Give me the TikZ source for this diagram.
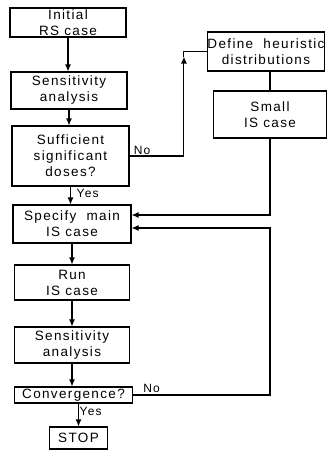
\documentclass[tikz,border=0pt]{standalone}
\usepackage{fontspec}
\setmainfont{Liberation Sans}[LetterSpace=10]
\usepackage{tikz}
\usetikzlibrary{calc, arrows.meta, positioning}
\tikzset{
    boxnode/.style = {draw, rectangle, inner sep = 0em, node distance=0em, line width=1.1pt,
      minimum width=116pt, align=center, font=\fontsize{13.5}{16}\selectfont},
    textnode/.style = {draw=none, fill=none, rectangle, inner sep = 0em, node distance=0em,
      font=\fontsize{12}{14}\selectfont},
    connect/.style = {black, line width=1.1pt, -{Latex[length=7pt, width=6pt]}},
    plainline/.style = {black, line width=1.1pt}
}

\begin{document}
\begin{tikzpicture}[x=1pt, y=1pt]
    \useasboundingbox (0,0) rectangle (327,-450);

    % main column
    \node [name = Init, boxnode, minimum height=29pt] at (68,-22.5) {Initial\\RS case};
    \node [name = SensA, boxnode, minimum height=37pt, below of = Init, xshift=1pt, yshift=-68pt] {Sensitivity\\analysis};
    \node [name = Suff, boxnode, minimum width=117pt, minimum height=60pt, below of = SensA, xshift=1.5pt, yshift=-65.5pt] {Sufficient\\significant\\doses?};
    \node [name = Spec, boxnode, minimum width=118pt, minimum height=38pt, below of = Suff, xshift=1.5pt, yshift=-68pt] {Specify \ main\\IS case};
    \node [name = Run, boxnode, minimum width=115pt, minimum height=35pt, below of = Spec, yshift=-58.5pt] {Run\\IS case};
    \node [name = SensB, boxnode, minimum width=115pt, minimum height=36pt, below of = Run, yshift=-62.5pt] {Sensitivity\\analysis};
    \node [name = Conv, boxnode, minimum width=118pt, minimum height=16pt, below of = SensB, xshift=1.5pt, yshift=-50pt] {Convergence?};
    \node [name = Stop, boxnode, minimum width=58pt, minimum height=22pt, below of = Conv, xshift=5pt, yshift=-43pt] {STOP};

    % side column
    \node [name = Define, boxnode, minimum width=114pt, minimum height=39pt] at (266,-51.5) {Define \ heuristic\\distributions};
    \node [name = Small, boxnode, minimum width=113pt, minimum height=47pt, below of = Define, xshift=4pt, yshift=-63pt] {Small\\IS case};

    % labels
    \node [name = NoA, textnode, anchor=south west] at ($(Suff.east)+(4pt,1pt)$) {No};
    \node [name = YesA, textnode, anchor=north west] at ($(Suff.south)+(6pt,-2pt)$) {Yes};
    \node [name = NoB, textnode, anchor=south west] at ($(Conv.east)+(10pt,2pt)$) {No};
    \node [name = YesB, textnode, anchor=north west] at ($(Conv.south)+(6pt,-3pt)$) {Yes};

    \coordinate (NoCorner) at ($(Define.west)+(-23pt,0)$);
    \coordinate (LoopX) at (270,-228);

    \draw [connect] (Init.south) -- (Init.south |- SensA.north);
    \draw [connect] (SensA.south) -- (SensA.south |- Suff.north);
    \draw [connect] (Suff.south) -- (Suff.south |- Spec.north);
    \draw [connect] (Spec.south) -- (Spec.south |- Run.north);
    \draw [connect] (Run.south) -- (Run.south |- SensB.north);
    \draw [connect] (SensB.south) -- (SensB.south |- Conv.north);
    \draw [connect] (Conv.south -| Stop.north) -- (Stop.north);

    \draw [connect] (Suff.east) -| ($(NoCorner)+(0,-5pt)$);
    \draw [plainline] ($(NoCorner)+(0,-5pt)$) -- (NoCorner) -- (Define.west);
    \draw [plainline] (Define.south -| Small.north) -- (Small.north);
    \draw [connect] (Small.south) |- ($(Spec.east)+(0,9pt)$);
    \draw [connect] (Conv.east) -| (LoopX) -- (LoopX -| Spec.east);
\end{tikzpicture}
\end{document}
